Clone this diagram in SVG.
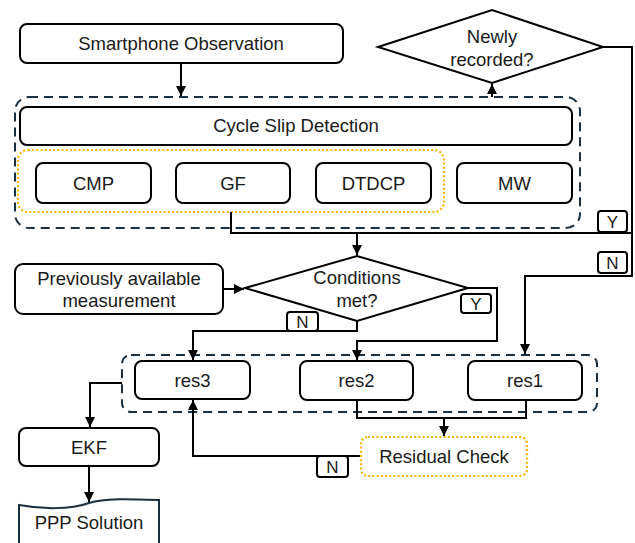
<svg xmlns="http://www.w3.org/2000/svg" width="635" height="543" viewBox="0 0 635 543">
<defs>
<marker id="ah" viewBox="0 0 10 10" refX="10" refY="5" markerWidth="5" markerHeight="5" orient="auto" markerUnits="strokeWidth">
<path d="M0,0 L10,5 L0,10 z" fill="#000"/>
</marker>
<style>
.box{fill:#fff;stroke:#000;stroke-width:2}
.dia{fill:#fff;stroke:#000;stroke-width:2}
.grp{fill:none;stroke:#1b2f3f;stroke-width:2;stroke-dasharray:9 6}
.dot{fill:none;stroke:#f7b500;stroke-width:2.2;stroke-dasharray:2 2.2}
.t{font-family:"Liberation Sans",Arial,sans-serif;font-size:18.5px;fill:#1a1a1a;text-anchor:middle}
.lb{font-family:"Liberation Sans",Arial,sans-serif;font-size:17px;fill:#1a1a1a;text-anchor:middle}
.c{fill:none;stroke:#000;stroke-width:2}
.lbl{fill:#fff;stroke:#000;stroke-width:2}
</style>
</defs>
<rect width="635" height="543" fill="#fff"/>

<g id="groups">
<rect class="grp" x="15" y="97" width="565" height="131" rx="14"/>
<rect class="dot" x="18" y="150" width="426" height="62" rx="10"/>
<rect class="grp" x="122" y="355" width="475" height="57" rx="9"/>
</g>

<g id="connectors">
<path class="c" d="M181,63 V96" marker-end="url(#ah)"/>
<path class="c" d="M492,97 V84" marker-end="url(#ah)"/>
<path class="c" d="M603,47 H632 V276 H525 V354" marker-end="url(#ah)"/>
<path class="c" d="M231,212 V233 H632"/>
<path class="c" d="M357,233 V255" marker-end="url(#ah)"/>
<path class="c" d="M223,289 H244" marker-end="url(#ah)"/>
<path class="c" d="M357,321 V331 H193 V360" marker-end="url(#ah)"/>
<path class="c" d="M468,288 H497 V341 H357 V360" marker-end="url(#ah)"/>
<path class="c" d="M357,400 V418 H526 V400"/>
<path class="c" d="M444,418 V436" marker-end="url(#ah)"/>
<path class="c" d="M361,456 H193 V400" marker-end="url(#ah)"/>
<path class="c" d="M122,383 H90 V427" marker-end="url(#ah)"/>
<path class="c" d="M89,466 V502" marker-end="url(#ah)"/>
</g>

<g id="labels">
<g id="lblY1"><rect class="lbl" x="598" y="211" width="29" height="21" rx="3"/><text class="lb" x="612.5" y="228">Y</text></g>
<g id="lblN1"><rect class="lbl" x="598" y="252" width="29" height="21" rx="3"/><text class="lb" x="612.5" y="269">N</text></g>
<g id="lblY2"><rect class="lbl" x="461" y="294" width="30" height="19" rx="3"/><text class="lb" x="476" y="310">Y</text></g>
<g id="lblN2"><rect class="lbl" x="287" y="312" width="31" height="19" rx="3"/><text class="lb" x="302.5" y="328">N</text></g>
<g id="lblN3"><rect class="lbl" x="317" y="456" width="31" height="21" rx="3"/><text class="lb" x="332.5" y="473">N</text></g>
</g>

<g id="smartphone">
<rect class="box" x="20" y="24" width="323" height="39" rx="7"/>
<text class="t" x="181" y="50">Smartphone Observation</text>
</g>
<g id="newly">
<polygon class="dia" points="378,47 492,10 603,47 492,83"/>
<text class="t" x="492" y="43">Newly</text>
<text class="t" x="492" y="66">recorded?</text>
</g>
<g id="csd">
<rect class="box" x="20" y="107" width="552" height="38" rx="7"/>
<text class="t" x="296" y="132">Cycle Slip Detection</text>
</g>
<g id="cmp">
<rect class="box" x="36" y="163" width="115" height="40" rx="7"/>
<text class="t" x="93.5" y="190">CMP</text>
</g>
<g id="gf">
<rect class="box" x="176" y="163" width="114" height="40" rx="7"/>
<text class="t" x="233" y="190">GF</text>
</g>
<g id="dtdcp">
<rect class="box" x="316" y="163" width="115" height="40" rx="7"/>
<text class="t" x="373.5" y="190">DTDCP</text>
</g>
<g id="mw">
<rect class="box" x="457" y="163" width="115" height="40" rx="7"/>
<text class="t" x="514.5" y="190">MW</text>
</g>
<g id="prev">
<rect class="box" x="15" y="264" width="208" height="50" rx="8"/>
<text class="t" x="119" y="285">Previously available</text>
<text class="t" x="119" y="307">measurement</text>
</g>
<g id="cond">
<polygon class="dia" points="245,288 357,256 468,288 357,321"/>
<text class="t" x="357" y="284">Conditions</text>
<text class="t" x="357" y="307">met?</text>
</g>
<g id="res3">
<rect class="box" x="135" y="361" width="115" height="38" rx="7"/>
<text class="t" x="192.5" y="387">res3</text>
</g>
<g id="res2">
<rect class="box" x="300" y="361" width="113" height="39" rx="7"/>
<text class="t" x="356.5" y="387">res2</text>
</g>
<g id="res1">
<rect class="box" x="468" y="361" width="114" height="39" rx="7"/>
<text class="t" x="525" y="387">res1</text>
</g>
<g id="residual">
<rect class="dot" x="361" y="437" width="166" height="39" rx="7"/>
<text class="t" x="444" y="463">Residual Check</text>
</g>
<g id="ekf">
<rect class="box" x="19" y="428" width="140" height="38" rx="7"/>
<text class="t" x="89" y="454">EKF</text>
</g>
<g id="ppp">
<path d="M19,505 C40,509 70,510 89,503 C105,498 130,499 159,500 V552 H19 Z" fill="#fff" stroke="#1b2f3f" stroke-width="2"/>
<text class="t" x="89" y="529">PPP Solution</text>
</g>
</svg>
